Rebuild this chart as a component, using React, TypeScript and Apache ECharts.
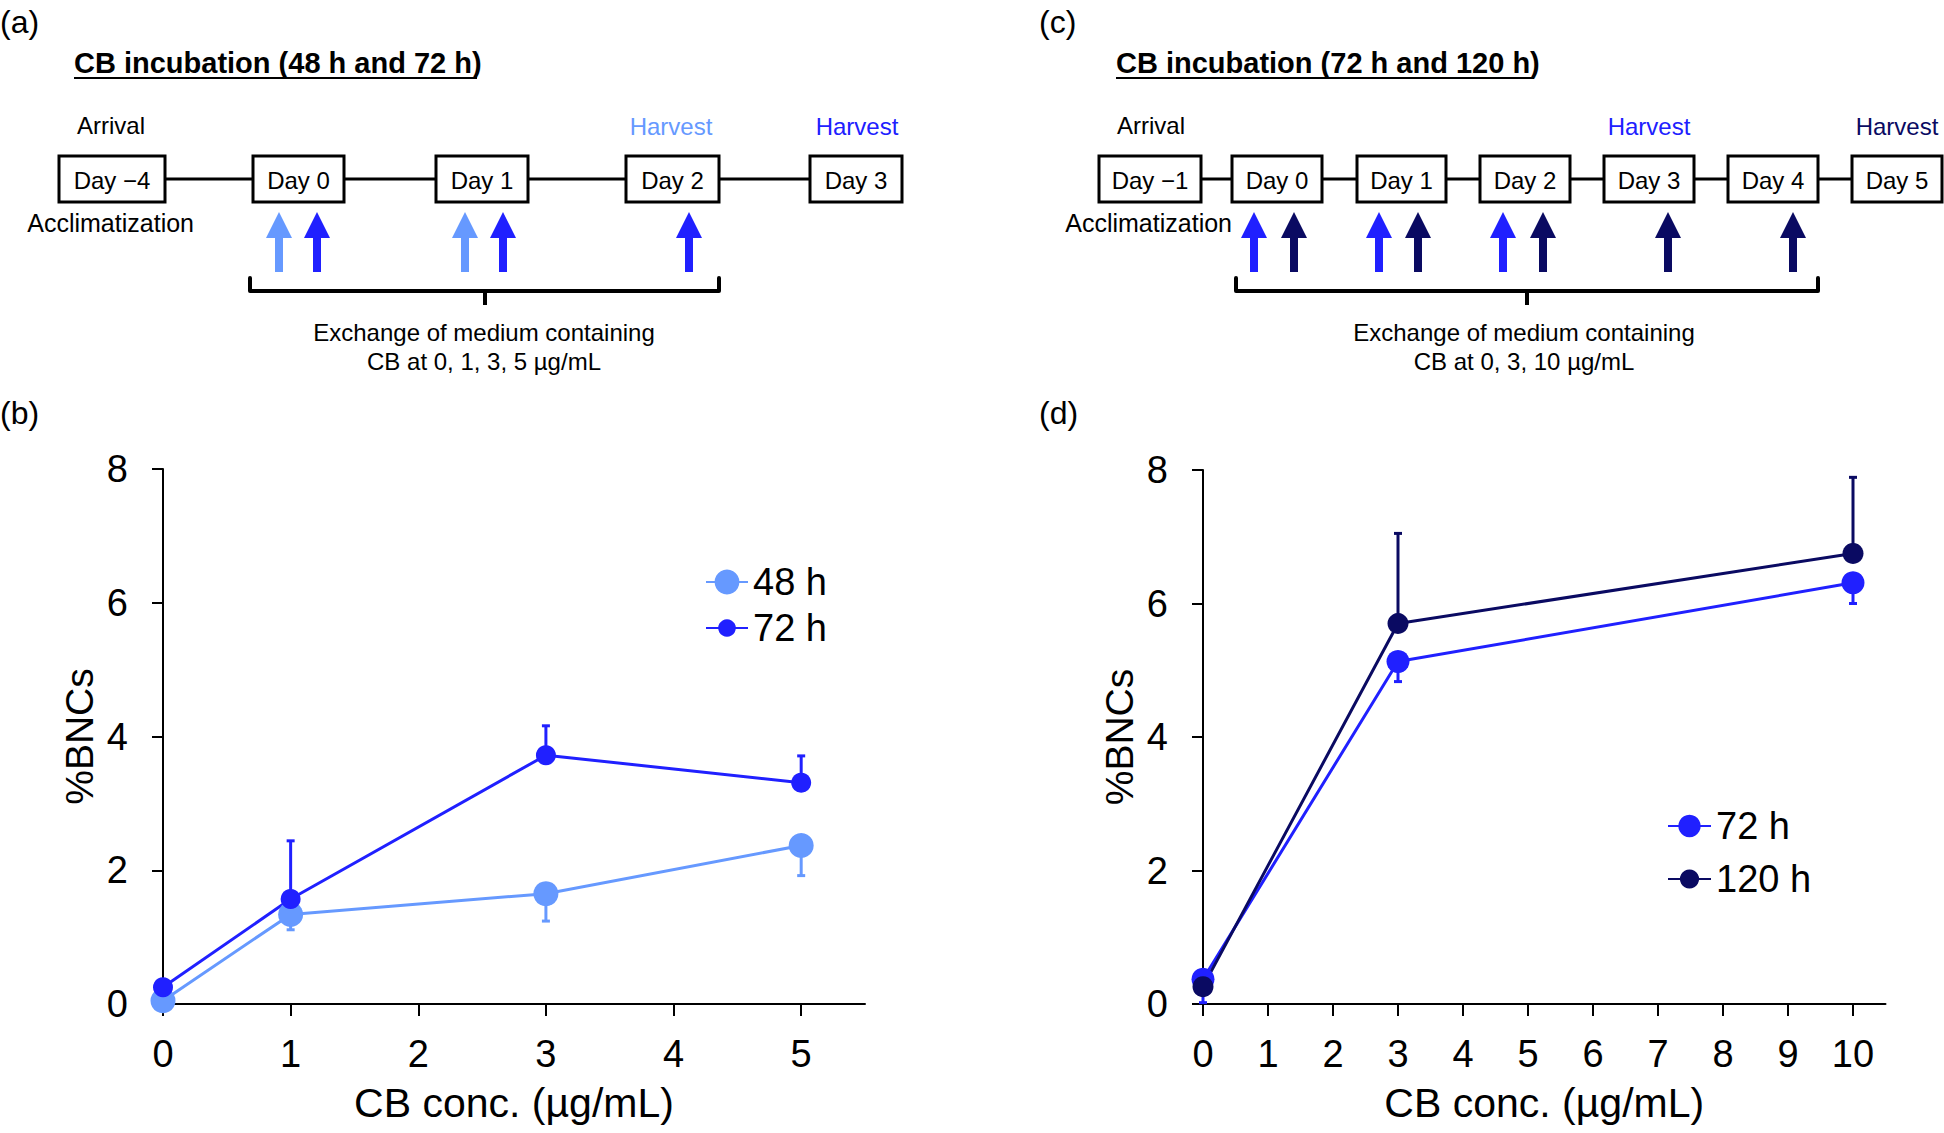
import React, { useEffect, useRef } from "react";
import * as echarts from "echarts";

// ---------- data ----------
const yTicks = [0, 2, 4, 6, 8];
const xTicksB = [0, 1, 2, 3, 4, 5];
const xTicksD = [0, 1, 2, 3, 4, 5, 6, 7, 8, 9, 10];

const concB = [0, 1, 3, 5];
const mean48 = [0.05, 1.34, 1.65, 2.37];
const sd48 = [0, 0.23, 0.41, 0.45];
const mean72b = [0.25, 1.57, 3.72, 3.31];
const sd72b = [0.1, 0.87, 0.44, 0.4];

const concD = [0, 3, 10];
const mean72d = [0.37, 5.13, 6.31];
const sd72d = [0.35, 0.3, 0.31];
const mean120 = [0.26, 5.7, 6.75];
const sd120 = [0.1, 1.35, 1.14];

const daysA = ["Day \u22124", "Day 0", "Day 1", "Day 2", "Day 3"];
const daysC = ["Day \u22121", "Day 0", "Day 1", "Day 2", "Day 3", "Day 4", "Day 5"];
const arrowsA = ["48 h", "72 h", "48 h", "72 h", "72 h"];
const arrowsC = ["72 h", "120 h", "72 h", "120 h", "72 h", "120 h", "120 h", "120 h"];
const titleA = "CB incubation (48 h and 72 h)";
const titleC = "CB incubation (72 h and 120 h)";
const exchangeA = ["Exchange of medium containing", "CB at 0, 1, 3, 5 \u00b5g/mL"];
const exchangeC = ["Exchange of medium containing", "CB at 0, 3, 10 \u00b5g/mL"];

// ---------- styles / layout ----------
const FONT = '"Liberation Sans", Arial, Helvetica, sans-serif';
const C48 = "#6699ff";
const C72 = "#2020ff";
const C120 = "#0a0a62";
const colorOf: Record<string, string> = { "48 h": C48, "72 h": C72, "120 h": C120 };

const boxA = [[59, 165], [253, 344], [436, 528], [626, 719], [810, 902]];
const boxC = [[1099, 1201], [1232, 1322], [1357, 1446], [1480, 1570], [1604, 1694], [1728, 1818], [1852, 1942]];
const arrowXA = [279, 317, 465, 503, 689];
const arrowXC = [1254, 1294, 1379, 1418, 1503, 1543, 1668, 1793];

function txt(x: number, y: number, s: string, size: number, opts: any = {}) {
  const align = opts.align || "left";
  return {
    type: "text",
    x,
    y,
    z: 10,
    style: {
      text: s,
      fontSize: size,
      fontFamily: FONT,
      fontWeight: opts.bold ? "bold" : "normal",
      fill: opts.color || "#000",
      align,
      textAlign: align,
      verticalAlign: "middle",
      textVerticalAlign: "middle",
    },
  };
}

function arrow(cx: number, color: string) {
  return {
    type: "polygon",
    z: 5,
    shape: {
      points: [
        [cx - 4, 272], [cx + 4, 272], [cx + 4, 238], [cx + 13, 238],
        [cx, 212], [cx - 13, 238], [cx - 4, 238],
      ],
    },
    style: { fill: color },
  };
}

function timeline(boxes: number[][], labels: string[]) {
  const els: any[] = [];
  els.push({
    type: "line", z: 4,
    shape: { x1: boxes[0][1], y1: 179, x2: boxes[boxes.length - 1][0], y2: 179 },
    style: { stroke: "#000", lineWidth: 3 },
  });
  boxes.forEach((b, i) => {
    els.push({
      type: "rect", z: 5,
      shape: { x: b[0], y: 156, width: b[1] - b[0], height: 46 },
      style: { fill: "#fff", stroke: "#000", lineWidth: 3 },
    });
    els.push(txt((b[0] + b[1]) / 2, 180, labels[i], 24, { align: "center" }));
  });
  return els;
}

function brace(x1: number, x2: number, xc: number) {
  return [
    {
      type: "polyline", z: 4,
      shape: { points: [[x1, 278], [x1, 291], [x2, 291], [x2, 278]] },
      style: { stroke: "#000", lineWidth: 4, fill: null, lineJoin: "round", lineCap: "round" },
    },
    {
      type: "line", z: 4,
      shape: { x1: xc, y1: 291, x2: xc, y2: 305 },
      style: { stroke: "#000", lineWidth: 4 },
    },
  ];
}

function buildGraphics() {
  const g: any[] = [];
  // panel labels
  g.push(txt(0, 22, "(a)", 32));
  g.push(txt(1039, 22, "(c)", 32));
  g.push(txt(0, 413, "(b)", 32));
  g.push(txt(1039, 413, "(d)", 32));
  // titles
  g.push(txt(74, 63, titleA, 29, { bold: true }));
  g.push({ type: "line", z: 4, shape: { x1: 74, y1: 78, x2: 477, y2: 78 }, style: { stroke: "#000", lineWidth: 2 } });
  g.push(txt(1116, 63, titleC, 29, { bold: true }));
  g.push({ type: "line", z: 4, shape: { x1: 1116, y1: 78, x2: 1534, y2: 78 }, style: { stroke: "#000", lineWidth: 2 } });
  // arrival / harvest / acclimatization
  g.push(txt(77, 125, "Arrival", 24));
  g.push(txt(1117, 125, "Arrival", 24));
  g.push(txt(671, 126, "Harvest", 24, { align: "center", color: C48 }));
  g.push(txt(857, 126, "Harvest", 24, { align: "center", color: C72 }));
  g.push(txt(1649, 126, "Harvest", 24, { align: "center", color: C72 }));
  g.push(txt(1897, 126, "Harvest", 24, { align: "center", color: C120 }));
  g.push(txt(194, 223, "Acclimatization", 25, { align: "right" }));
  g.push(txt(1232, 223, "Acclimatization", 25, { align: "right" }));
  // timelines
  g.push(...timeline(boxA, daysA));
  g.push(...timeline(boxC, daysC));
  // arrows
  arrowsA.forEach((s, i) => g.push(arrow(arrowXA[i], colorOf[s])));
  arrowsC.forEach((s, i) => g.push(arrow(arrowXC[i], colorOf[s])));
  // braces
  g.push(...brace(250, 719, 485));
  g.push(...brace(1236, 1818, 1527));
  // exchange texts
  g.push(txt(484, 332, exchangeA[0], 24, { align: "center" }));
  g.push(txt(484, 361, exchangeA[1], 24, { align: "center" }));
  g.push(txt(1524, 332, exchangeC[0], 24, { align: "center" }));
  g.push(txt(1524, 361, exchangeC[1], 24, { align: "center" }));
  return g;
}

function errSeries(name: string, idx: number, xs: number[], means: number[], sds: number[], dir: number, color: string) {
  return {
    type: "custom",
    name,
    xAxisIndex: idx,
    yAxisIndex: idx,
    z: 2,
    silent: true,
    encode: { x: 0, y: [1, 2] },
    data: xs.map((x, i) => [x, means[i], means[i] + dir * sds[i]]),
    renderItem: (params: any, api: any) => {
      const x = api.value(0);
      const m = api.value(1);
      const t = api.value(2);
      if (Math.abs(t - m) < 1e-9) return null;
      const p = api.coord([x, m]);
      const q = api.coord([x, t]);
      return {
        type: "group",
        children: [
          { type: "line", shape: { x1: p[0], y1: p[1], x2: q[0], y2: q[1] }, style: { stroke: color, lineWidth: 3 } },
          { type: "line", shape: { x1: q[0] - 4, y1: q[1], x2: q[0] + 4, y2: q[1] }, style: { stroke: color, lineWidth: 3 } },
        ],
      };
    },
  };
}

function lineSeries(name: string, idx: number, xs: number[], means: number[], color: string, size: number) {
  return {
    type: "line",
    name,
    xAxisIndex: idx,
    yAxisIndex: idx,
    z: 3,
    data: xs.map((x, i) => [x, means[i]]),
    symbol: "circle",
    symbolSize: size,
    showSymbol: true,
    lineStyle: { color, width: 3 },
    itemStyle: { color },
  };
}

const axisLineStyle = { color: "#000", width: 2 };

function xAxis(idx: number, max: number, ticks: number[]) {
  return {
    type: "value",
    gridIndex: idx,
    min: 0,
    max,
    splitLine: { show: false },
    axisLine: { show: true, onZero: false, lineStyle: axisLineStyle },
    axisTick: { show: true, length: 12, lineStyle: axisLineStyle, customValues: ticks },
    axisLabel: { customValues: ticks, fontSize: 38, fontFamily: FONT, color: "#000", margin: 31 },
    name: "CB conc. (\u00b5g/mL)",
    nameLocation: "middle",
    nameGap: 78,
    nameTextStyle: { fontSize: 41, fontFamily: FONT, color: "#000" },
  };
}

function yAxis(idx: number) {
  return {
    type: "value",
    gridIndex: idx,
    min: 0,
    max: 8,
    interval: 2,
    splitLine: { show: false },
    axisLine: { show: true, lineStyle: axisLineStyle },
    axisTick: { show: true, length: 11, lineStyle: axisLineStyle, customValues: yTicks },
    axisLabel: { customValues: yTicks, fontSize: 38, fontFamily: FONT, color: "#000", margin: 35 },
    name: "%BNCs",
    nameLocation: "middle",
    nameGap: 64,
    nameTextStyle: { fontSize: 39, fontFamily: FONT, color: "#000" },
  };
}

function legend(name: string, left: number, top: number, itemHeight: number, itemWidth: number) {
  return {
    data: [name],
    left,
    top,
    padding: 0,
    itemWidth,
    itemHeight,
    selectedMode: false,
    textStyle: { fontSize: 38, fontFamily: FONT, color: "#000" },
  };
}

export default function App() {
  const ref = useRef<HTMLDivElement>(null);
  useEffect(() => {
    if (!ref.current) return;
    const chart = echarts.init(ref.current, undefined, { renderer: "svg" });
    chart.setOption({
      animation: false,
      backgroundColor: "#fff",
      textStyle: { fontFamily: FONT },
      grid: [
        { left: 163, top: 469, width: 702, height: 535 },
        { left: 1203, top: 470, width: 682.5, height: 534 },
      ],
      xAxis: [xAxis(0, 5.5, xTicksB), xAxis(1, 10.5, xTicksD)],
      yAxis: [yAxis(0), yAxis(1)],
      legend: [
        legend("48 h", 705, 563, 31, 42),
        legend("72 h", 705, 609, 22, 42),
        legend("72 h", 1667, 807, 28, 43),
        legend("120 h", 1667, 860, 24, 43),
      ],
      graphic: buildGraphics(),
      series: [
        errSeries("48 h SD", 0, concB, mean48, sd48, -1, C48),
        errSeries("72 h SD (b)", 0, concB, mean72b, sd72b, 1, C72),
        errSeries("72 h SD (d)", 1, concD, mean72d, sd72d, -1, C72),
        errSeries("120 h SD", 1, concD, mean120, sd120, 1, C120),
        lineSeries("48 h", 0, concB, mean48, C48, 25),
        lineSeries("72 h", 0, concB, mean72b, C72, 20),
        lineSeries("72 h", 1, concD, mean72d, C72, 23),
        lineSeries("120 h", 1, concD, mean120, C120, 21),
      ],
    });
    return () => chart.dispose();
  }, []);
  return (
    <div
      ref={ref}
      style={{ position: "fixed", left: 0, top: 0, width: 1944, height: 1133, background: "#fff" }}
    />
  );
}
